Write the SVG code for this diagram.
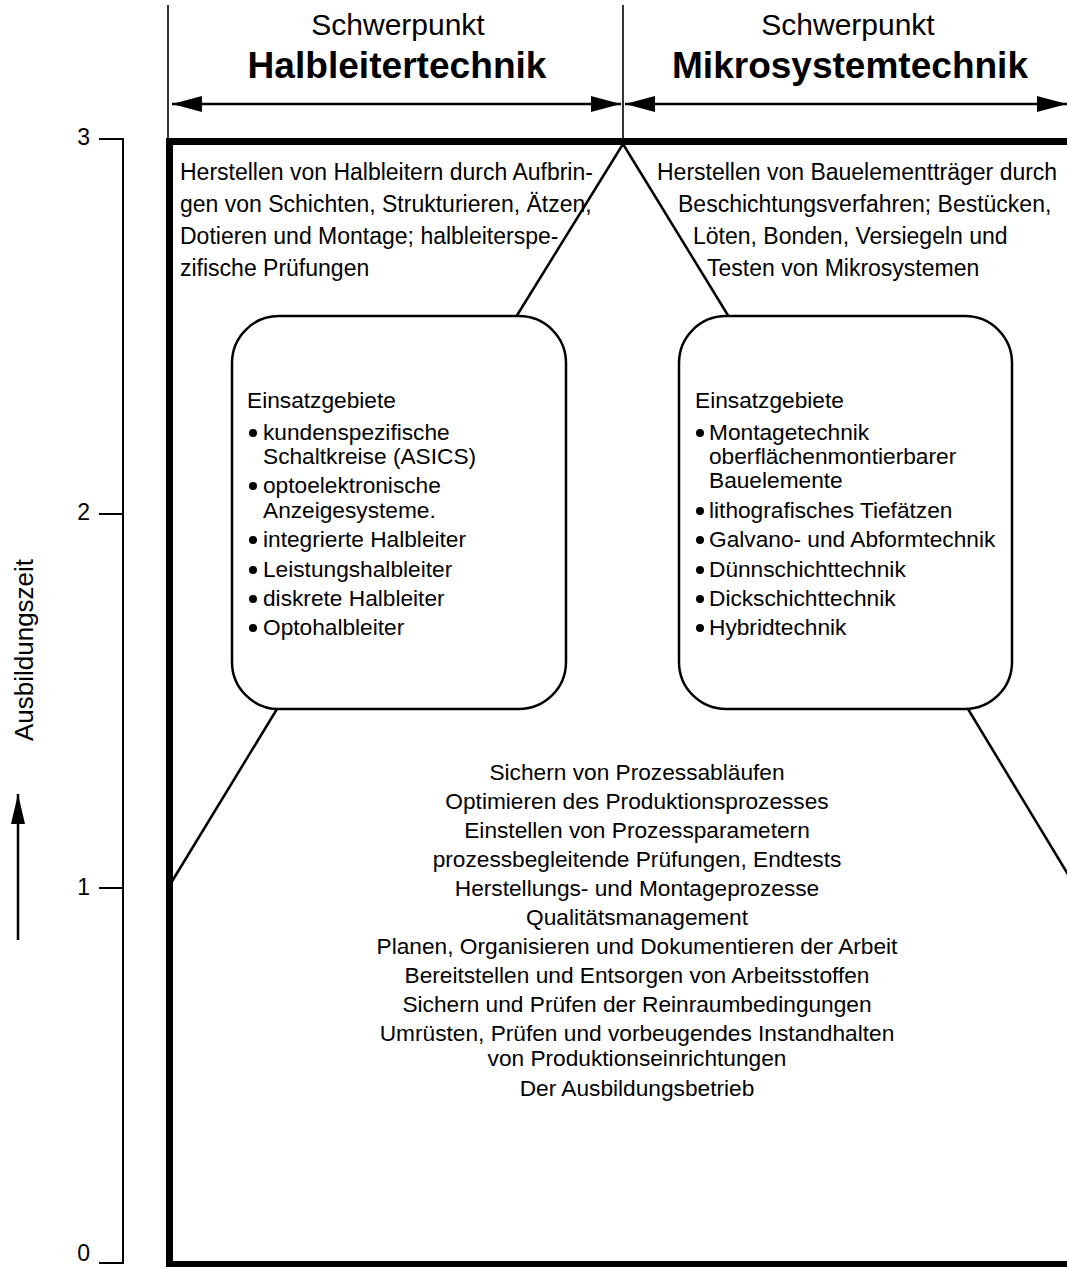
<svg xmlns="http://www.w3.org/2000/svg" width="1067" height="1267" viewBox="0 0 1067 1267">
<style>
text{font-family:"Liberation Sans",Arial,sans-serif;fill:#000}
.hd{font-size:30px;text-anchor:middle}
.hb{font-size:36px;font-weight:bold;text-anchor:middle}
.t{font-size:23px}
.b{font-size:22.7px}
.c{font-size:22.7px;text-anchor:middle}
.ax{font-size:23px;text-anchor:end}
.thin{stroke:#000;stroke-width:1.6;fill:none}
.conn{stroke:#000;stroke-width:2.5;fill:none}
.frame{stroke:#000;stroke-width:7;fill:none}
.box{stroke:#000;stroke-width:2.5;fill:#fff}
</style>
<defs>
<marker id="ah" markerWidth="30" markerHeight="16" refX="30" refY="8" orient="auto-start-reverse" markerUnits="userSpaceOnUse">
<path d="M0,0 L30,8 L0,16 Z" fill="#000"/>
</marker>
<marker id="ahv" markerWidth="30" markerHeight="14" refX="30" refY="7" orient="auto" markerUnits="userSpaceOnUse">
<path d="M0,0 L30,7 L0,14 Z" fill="#000"/>
</marker>
</defs>
<rect width="1067" height="1267" fill="#fff"/>

<g id="frame">
<line class="thin" x1="168" y1="5" x2="168" y2="141"/>
<line class="thin" x1="623" y1="5" x2="623" y2="141"/>
<path class="frame" d="M1070,141.5 L169.5,141.5 L169.5,1264.5 L1070,1264.5"/>
</g>

<g id="connectors">
<line class="conn" x1="623" y1="144" x2="516" y2="317"/>
<line class="conn" x1="623" y1="144" x2="729" y2="317"/>
<line class="conn" x1="277" y1="709" x2="171" y2="883"/>
<line class="conn" x1="968" y1="709" x2="1075" y2="886"/>
<line stroke="#000" stroke-width="2.5" x1="172" y1="104" x2="621" y2="104" marker-start="url(#ah)" marker-end="url(#ah)"/>
<line stroke="#000" stroke-width="2.5" x1="625" y1="104" x2="1067" y2="104" marker-start="url(#ah)" marker-end="url(#ah)"/>
</g>

<g id="header-halbleiter">
<text class="hd" x="398" y="35">Schwerpunkt</text>
<text class="hb" x="397" y="78" textLength="299" lengthAdjust="spacingAndGlyphs">Halbleitertechnik</text>
</g>
<g id="header-mikrosystem">
<text class="hd" x="848" y="35">Schwerpunkt</text>
<text class="hb" x="850" y="78" textLength="356" lengthAdjust="spacingAndGlyphs">Mikrosystemtechnik</text>
</g>

<g id="text-halbleiter">
<text class="t" x="180" y="180">Herstellen von Halbleitern durch Aufbrin-</text>
<text class="t" x="180" y="212">gen von Schichten, Strukturieren, Ätzen,</text>
<text class="t" x="180" y="244">Dotieren und Montage; halbleiterspe-</text>
<text class="t" x="180" y="276">zifische Prüfungen</text>
</g>
<g id="text-mikrosystem">
<text class="t" x="657" y="180">Herstellen von Bauelementträger durch</text>
<text class="t" x="678" y="212">Beschichtungsverfahren; Bestücken,</text>
<text class="t" x="693" y="244">Löten, Bonden, Versiegeln und</text>
<text class="t" x="707" y="276">Testen von Mikrosystemen</text>
</g>

<g id="box-halbleiter">
<rect class="box" x="232" y="316" width="334" height="393" rx="47" ry="47"/>
<text class="b" x="247" y="408">Einsatzgebiete</text>
<g fill="#000">
<circle cx="253" cy="433" r="4"/>
<circle cx="253" cy="486" r="4"/>
<circle cx="253" cy="540" r="4"/>
<circle cx="253" cy="570" r="4"/>
<circle cx="253" cy="599" r="4"/>
<circle cx="253" cy="628" r="4"/>
</g>
<text class="b" x="263" y="440">kundenspezifische</text>
<text class="b" x="263" y="464">Schaltkreise (ASICS)</text>
<text class="b" x="263" y="493">optoelektronische</text>
<text class="b" x="263" y="518">Anzeigesysteme.</text>
<text class="b" x="263" y="547">integrierte Halbleiter</text>
<text class="b" x="263" y="577">Leistungshalbleiter</text>
<text class="b" x="263" y="606">diskrete Halbleiter</text>
<text class="b" x="263" y="635">Optohalbleiter</text>
</g>

<g id="box-mikrosystem">
<rect class="box" x="679" y="316" width="333" height="393" rx="47" ry="47"/>
<text class="b" x="695" y="408">Einsatzgebiete</text>
<g fill="#000">
<circle cx="700" cy="433" r="4"/>
<circle cx="700" cy="511" r="4"/>
<circle cx="700" cy="540" r="4"/>
<circle cx="700" cy="570" r="4"/>
<circle cx="700" cy="599" r="4"/>
<circle cx="700" cy="628" r="4"/>
</g>
<text class="b" x="709" y="440">Montagetechnik</text>
<text class="b" x="709" y="464">oberflächenmontierbarer</text>
<text class="b" x="709" y="488">Bauelemente</text>
<text class="b" x="709" y="518">lithografisches Tiefätzen</text>
<text class="b" x="709" y="547">Galvano- und Abformtechnik</text>
<text class="b" x="709" y="577">Dünnschichttechnik</text>
<text class="b" x="709" y="606">Dickschichttechnik</text>
<text class="b" x="709" y="635">Hybridtechnik</text>
</g>

<g id="text-grundlagen">
<text class="c" x="637" y="780">Sichern von Prozessabläufen</text>
<text class="c" x="637" y="809">Optimieren des Produktionsprozesses</text>
<text class="c" x="637" y="838">Einstellen von Prozessparametern</text>
<text class="c" x="637" y="867">prozessbegleitende Prüfungen, Endtests</text>
<text class="c" x="637" y="896">Herstellungs- und Montageprozesse</text>
<text class="c" x="637" y="925">Qualitätsmanagement</text>
<text class="c" x="637" y="954">Planen, Organisieren und Dokumentieren der Arbeit</text>
<text class="c" x="637" y="983">Bereitstellen und Entsorgen von Arbeitsstoffen</text>
<text class="c" x="637" y="1012">Sichern und Prüfen der Reinraumbedingungen</text>
<text class="c" x="637" y="1041">Umrüsten, Prüfen und vorbeugendes Instandhalten</text>
<text class="c" x="637" y="1066">von Produktionseinrichtungen</text>
<text class="c" x="637" y="1096">Der Ausbildungsbetrieb</text>
</g>

<g id="axis">
<path stroke="#000" stroke-width="2" fill="none" d="M99,139 H123 V1263 H99 M99,514 H123 M99,888 H123"/>
<text class="ax" x="90" y="145">3</text>
<text class="ax" x="90" y="520">2</text>
<text class="ax" x="90" y="895">1</text>
<text class="ax" x="90" y="1261">0</text>
<text font-size="26" text-anchor="middle" transform="translate(33,650) rotate(-90)">Ausbildungszeit</text>
<line stroke="#000" stroke-width="2.5" x1="18" y1="940" x2="18" y2="794" marker-end="url(#ahv)"/>
</g>
</svg>
